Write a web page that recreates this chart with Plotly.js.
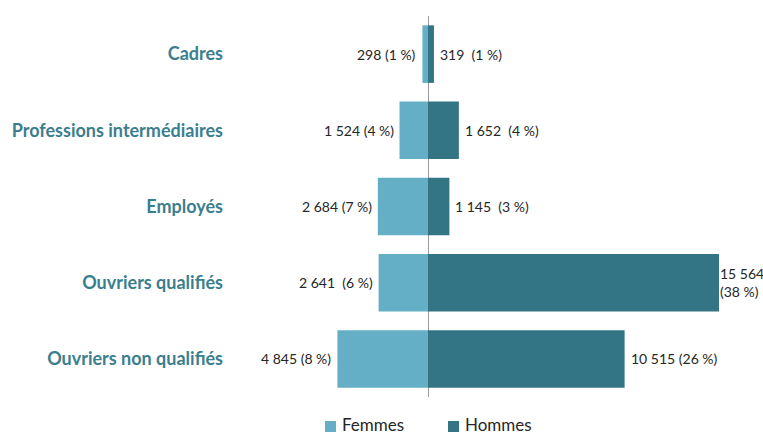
<!DOCTYPE html>
<html>
<head>
<meta charset="utf-8">
<script src="https://cdn.plot.ly/plotly-3.0.1.min.js"></script>
<style>html,body{margin:0;padding:0;background:#fff}#chart{width:763px;height:434px}</style>
</head>
<body>
<div id="chart"></div>
<script>
const categories = ["Cadres", "Professions intermédiaires", "Employés", "Ouvriers qualifiés", "Ouvriers non qualifiés"];
const femmes = [298, 1524, 2684, 2641, 4845];
const hommes = [319, 1652, 1145, 15564, 10515];
const femmesLabels = ["298 (1 %)", "1 524 (4 %)", "2 684 (7 %)", "2 641\u00a0 (6 %)", "4 845 (8 %)"];
const hommesLabels = ["319\u00a0 (1 %)", "1 652\u00a0 (4 %)", "1 145\u00a0 (3 %)", "15 564<br>(38 %)", "10 515 (26 %)"];
const seriesNames = ["Femmes", "Hommes"];

const cFem = "#64afc6";
const cHom = "#337584";
const cLab = "#3b7e8e";
const W = 763, H = 434;
const M = {l: 240, r: 43, t: 16, b: 37};

const traces = [
  {type: "bar", orientation: "h", name: seriesNames[0], y: categories, x: femmes.map(v => -v),
   marker: {color: cFem}, hoverinfo: "skip"},
  {type: "bar", orientation: "h", name: seriesNames[1], y: categories, x: hommes,
   marker: {color: cHom}, hoverinfo: "skip"}
];

const annFont = {family: "Lato, sans-serif", size: 14, color: "#262626"};
const annotations = [];
categories.forEach((c, i) => {
  annotations.push({x: -femmes[i], y: c, xref: "x", yref: "y", text: femmesLabels[i],
    showarrow: false, xanchor: "right", xshift: -4, font: annFont});
  const multi = hommesLabels[i].indexOf("<br>") >= 0;
  annotations.push({x: hommes[i], y: c, xref: "x", yref: "y", text: hommesLabels[i],
    showarrow: false, xanchor: "left", align: "left", xshift: multi ? -1 : 4, font: annFont});
});

// manual legend (paper coordinates from pixel positions)
const pw = W - M.l - M.r, ph = H - M.t - M.b;
const px = x => (x - M.l) / pw;
const py = y => (H - M.b - y) / ph;
const legendX = [325, 448];
const legendColors = [cFem, cHom];
const shapes = [];
seriesNames.forEach((n, i) => {
  shapes.push({type: "rect", xref: "paper", yref: "paper",
    x0: px(legendX[i]), x1: px(legendX[i] + 11), y0: py(432), y1: py(421),
    fillcolor: legendColors[i], line: {width: 0}});
  annotations.push({xref: "paper", yref: "paper", x: px(legendX[i] + 16), y: py(424.5),
    xanchor: "left", yanchor: "middle", text: n, showarrow: false, borderpad: 0,
    font: {family: "Lato, sans-serif", size: 17, color: "#262626"}});
});

const layout = {
  width: W, height: H,
  margin: {l: M.l, r: M.r, t: M.t, b: M.b, autoexpand: false},
  paper_bgcolor: "#fff", plot_bgcolor: "#fff",
  barmode: "relative", bargap: 0.245,
  showlegend: false,
  xaxis: {range: [-10054, 15616], showticklabels: false, showgrid: false, zeroline: true,
    zerolinecolor: "#9a9a9a", zerolinewidth: 1, fixedrange: true},
  yaxis: {autorange: "reversed", showgrid: false, zeroline: false, ticks: "", ticklabelstandoff: 16,
    tickfont: {family: "Lato, sans-serif", size: 18, color: cLab, weight: "bold"}},
  shapes: shapes,
  annotations: annotations
};

Plotly.newPlot("chart", traces, layout, {displayModeBar: false, staticPlot: true});
</script>
</body>
</html>
